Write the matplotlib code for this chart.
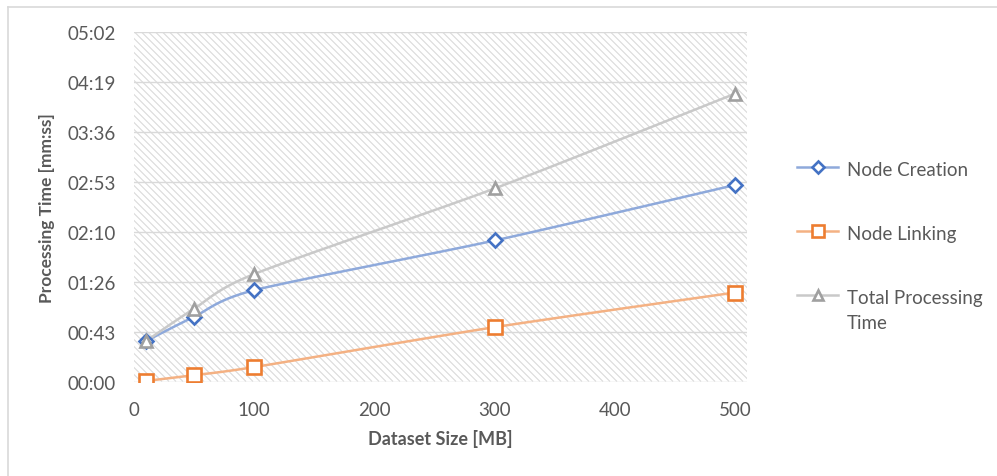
import numpy as np
import matplotlib
matplotlib.use("Agg")
import matplotlib.pyplot as plt
from matplotlib.lines import Line2D
from matplotlib.collections import LineCollection
from matplotlib.ticker import FuncFormatter, FixedLocator

plt.rcParams['font.family'] = ['Lato', 'DejaVu Sans']

# Dataset sizes (MB) and processing times (seconds)
dataset_mb = [10, 50, 100, 300, 500]
node_creation_s = [35, 56, 79, 122, 170]
node_linking_s = [0.5, 5.5, 12.5, 47, 77]
total_processing_s = [35, 63, 93, 167, 249]

series_labels = ["Node Creation", "Node Linking", "Total Processing\nTime"]
x_ticks = [0, 100, 200, 300, 400, 500]
y_step_s = 43.2          # 0.0005 day
y_ticks = [i * y_step_s for i in range(8)]

W, H = 997, 477
DPI = 100
fig = plt.figure(figsize=(W / DPI, H / DPI), dpi=DPI)

left_px, right_px, top_px, bottom_px = 134, 747, 33, 382.5
ax = fig.add_axes([left_px / W, 1 - bottom_px / H,
                   (right_px - left_px) / W, (bottom_px - top_px) / H])

text_col = "#595959"
grid_col = "#d9d9d9"

# diagonal hatch on the plot area
ax_w = right_px - left_px
ax_h = bottom_px - top_px
spacing = 7.0
segs = []
start = -ax_h
while start < ax_w:
    # line going down-right at 45 degrees in pixel space
    x0, y0 = start, ax_h
    x1, y1 = start + ax_h, 0
    segs.append([(x0 / ax_w, y0 / ax_h), (x1 / ax_w, y1 / ax_h)])
    start += spacing
hatch = LineCollection(segs, colors="#dadada", linewidths=0.8,
                       transform=ax.transAxes, zorder=0)
ax.add_collection(hatch)


def smooth(xs, ys, n=30, k=8.0):
    """Bezier smoothing through the points (Catmull-Rom style tangents)."""
    p = np.column_stack([xs, ys]).astype(float)
    out = []
    for i in range(len(p) - 1):
        p0 = p[i - 1] if i > 0 else p[i]
        p1 = p[i]
        p2 = p[i + 1]
        p3 = p[i + 2] if i + 2 < len(p) else p[i + 1]
        c1 = p1 + (p2 - p0) / k
        c2 = p2 - (p3 - p1) / k
        t = np.linspace(0, 1, n)[:, None]
        seg = ((1 - t) ** 3) * p1 + 3 * ((1 - t) ** 2) * t * c1 \
            + 3 * (1 - t) * t ** 2 * c2 + t ** 3 * p2
        out.append(seg if i == 0 else seg[1:])
    out = np.vstack(out)
    return out[:, 0], out[:, 1]


styles = [
    dict(values=node_creation_s, line="#8ea9db", edge="#4472c4", marker="D", ms=7.0),
    dict(values=node_linking_s, line="#f4b183", edge="#ed7d31", marker="s", ms=9.5),
    dict(values=total_processing_s, line="#c9c9c9", edge="#a0a0a0", marker="^", ms=9.0),
]

for st in styles:
    sx, sy = smooth(dataset_mb, st["values"])
    ax.plot(sx, sy, color=st["line"], lw=1.8, zorder=3, solid_capstyle="round")
    ax.plot(dataset_mb, st["values"], linestyle="none", marker=st["marker"],
            ms=st["ms"], mfc="white", mec=st["edge"], mew=1.9, zorder=4)

ax.set_xlim(0, 510)
ax.set_ylim(0, y_ticks[-1])
ax.xaxis.set_major_locator(FixedLocator(x_ticks))
ax.yaxis.set_major_locator(FixedLocator(y_ticks))


def mmss(v, pos):
    s = int(round(v))
    return f"{s // 60:02d}:{s % 60:02d}"


ax.yaxis.set_major_formatter(FuncFormatter(mmss))
ax.grid(axis="y", color=grid_col, lw=1.0, zorder=1)
ax.set_axisbelow(True)
for sp in ax.spines.values():
    sp.set_visible(False)
ax.tick_params(axis="both", length=0, labelsize=13.5, labelcolor=text_col)
ax.tick_params(axis="y", pad=13)
ax.tick_params(axis="x", pad=14)

ax.set_xlabel("Dataset Size [MB]", fontsize=13, fontweight="bold",
              color=text_col, labelpad=8)
ax.set_ylabel("Processing Time [mm:ss]", fontsize=12.5, fontweight="bold",
              color=text_col, labelpad=9)

# legend on the right
leg_y = [168, 232, 296]
for st, label, yp in zip(styles, series_labels, leg_y):
    yf = 1 - yp / H
    fig.add_artist(Line2D([797 / W, 838 / W], [yf, yf], color=st["line"],
                          lw=1.8, transform=fig.transFigure))
    fig.add_artist(Line2D([818 / W], [yf], marker=st["marker"], ms=st["ms"] * 0.85,
                          mfc="white", mec=st["edge"], mew=1.9,
                          transform=fig.transFigure))
    fig.text(847 / W, 1 - (yp - 6) / H, label, fontsize=13.5, color=text_col,
             va="top", ha="left", linespacing=1.55)

# outer chart border (top and left edges)
bcol = "#d9d9d9"
fig.add_artist(Line2D([8 / W, 1], [1 - 8 / H, 1 - 8 / H], color=bcol, lw=1.2,
                      transform=fig.transFigure))
fig.add_artist(Line2D([8 / W, 8 / W], [0, 1 - 8 / H], color=bcol, lw=1.2,
                      transform=fig.transFigure))

fig.savefig("out.png", dpi=DPI, facecolor="white")
